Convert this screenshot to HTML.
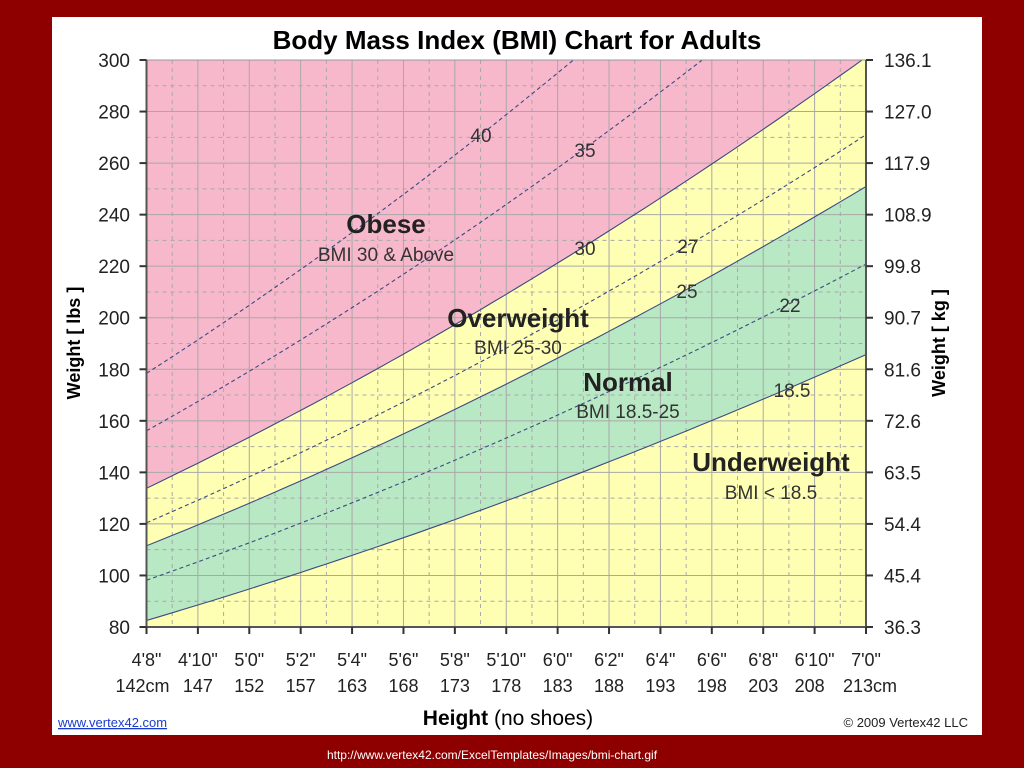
<!DOCTYPE html>
<html><head><meta charset="utf-8"><style>
body{margin:0;width:1024px;height:768px;background:#8e0000;overflow:hidden;font-family:"Liberation Sans",sans-serif}
svg{position:absolute;left:0;top:0}
</style></head><body>
<svg id="c" width="1024" height="768">
<rect x="52" y="17" width="930" height="718" fill="#fff"/>
<text x="517" y="49" font-size="26" font-weight="bold" text-anchor="middle" fill="#000">Body Mass Index (BMI) Chart for Adults</text>
<g id="plot"></g>
<text x="80" y="343" font-size="18" font-weight="bold" text-anchor="middle" transform="rotate(-90 80 343)">Weight [ lbs ]</text>
<text x="945" y="343" font-size="18" font-weight="bold" text-anchor="middle" transform="rotate(-90 945 343)">Weight [ kg ]</text>
<text x="508" y="725" font-size="21" text-anchor="middle"><tspan font-weight="bold">Height</tspan> (no shoes)</text>
<text x="58" y="727" font-size="13" fill="#1a3ccc" text-decoration="underline">www.vertex42.com</text>
<text x="968" y="727" font-size="13" text-anchor="end" fill="#222">© 2009 Vertex42 LLC</text>
<text x="492" y="759" font-size="12" text-anchor="middle" fill="#fff">http://www.vertex42.com/ExcelTemplates/Images/bmi-chart.gif</text>
</svg>
<script>
const bmiLevels=[18.5,22,25,27,30,35,40];
const solidLevels=[18.5,25,30];
const lbsTicks=[80,100,120,140,160,180,200,220,240,260,280,300];
const kgTicks=["36.3","45.4","54.4","63.5","72.6","81.6","90.7","99.8","108.9","117.9","127.0","136.1"];
const heightInches=[56,58,60,62,64,66,68,70,72,74,76,78,80,82,84];
const ftLabels=["4'8\"","4'10\"","5'0\"","5'2\"","5'4\"","5'6\"","5'8\"","5'10\"","6'0\"","6'2\"","6'4\"","6'6\"","6'8\"","6'10\"","7'0\""];
const cmLabels=["142cm","147","152","157","163","168","173","178","183","188","193","198","203","208","213cm"];
const NS="http://www.w3.org/2000/svg";
const L=146.5,R=866,T=60,B=627,hMin=56,hMax=84,wMin=80,wMax=300;
const X=h=>L+(h-hMin)/(hMax-hMin)*(R-L);
const Y=w=>B-(w-wMin)/(wMax-wMin)*(B-T);
const g=document.getElementById('plot');
function el(t,a,p){const e=document.createElementNS(NS,t);for(const k in a)e.setAttribute(k,a[k]);(p||g).appendChild(e);return e;}
const wt=(b,h)=>b*h*h/703;
const clip=el('clipPath',{id:'cp'});el('rect',{x:L,y:T,width:R-L,height:B-T},clip);
const cg=el('g',{'clip-path':'url(#cp)'});
function curve(b){let s='';for(let h=hMin;h<=hMax+0.001;h+=0.5)s+=(s?'L':'M')+X(h).toFixed(1)+','+Y(wt(b,h)).toFixed(1);return s;}
function band(lo,hi,fill,name){
 let top=hi==null?`M${L},${T}L${R},${T}`:curve(hi);
 let bot='';for(let h=hMax;h>=hMin-0.001;h-=0.5)bot+='L'+X(h).toFixed(1)+','+(lo==null?B:Y(wt(lo,h))).toFixed(1);
 const p=el('path',{d:top+bot+'Z',fill:fill},cg);
 
 
}
band(null,18.5,'#ffffb4','underweight-band');
band(18.5,25,'#b8e8c4','normal-band');
band(25,30,'#ffffb4','overweight-band');
band(30,null,'#f8b8cc','obese-band');
for(let h=hMin+1;h<hMax;h++){el('line',{x1:X(h),x2:X(h),y1:T,y2:B,stroke:'#a8a8a8','stroke-width':1,'stroke-dasharray':h%2?'4,4':''},cg);}
for(let w=wMin+10;w<wMax;w+=10){el('line',{x1:L,x2:R,y1:Y(w),y2:Y(w),stroke:'#a8a8a8','stroke-width':1,'stroke-dasharray':w%20?'4,4':''},cg);}
bmiLevels.forEach(b=>{
 const p=el('path',{d:curve(b),fill:'none',stroke:'#3c4a80','stroke-width':1.1,'stroke-dasharray':solidLevels.includes(b)?'':'4,3'},cg);
 
 
});
el('rect',{x:L,y:T,width:R-L,height:B-T,fill:'none',stroke:'#999'});
el('line',{x1:L,x2:L,y1:T,y2:B,stroke:'#555','stroke-width':2});
el('line',{x1:R,x2:R,y1:T,y2:B,stroke:'#555','stroke-width':2});
el('line',{x1:L,x2:R,y1:B,y2:B,stroke:'#555','stroke-width':2});
lbsTicks.forEach((w,i)=>{
 el('line',{x1:L-7,x2:L,y1:Y(w),y2:Y(w),stroke:'#333','stroke-width':2});
 el('line',{x1:R,x2:R+7,y1:Y(w),y2:Y(w),stroke:'#333','stroke-width':2});
 const t=el('text',{x:130,y:Y(w)+7,'font-size':19,'text-anchor':'end',fill:'#222'});t.textContent=w;
 
 
 const k=el('text',{x:884,y:Y(w)+7,'font-size':19,fill:'#222'});k.textContent=kgTicks[i];
 
 
});
heightInches.forEach((h,i)=>{
 el('line',{x1:X(h),x2:X(h),y1:B,y2:B+7,stroke:'#333','stroke-width':2});
 const a=el('text',{x:X(h),y:666,'font-size':18,'text-anchor':'middle',fill:'#222'});a.textContent=ftLabels[i];
 
 
 const c=el('text',{x:X(h)+(i==14?4:i==0?-4:(i==13?-5:0)),y:692,'font-size':18,'text-anchor':'middle',fill:'#222'});c.textContent=cmLabels[i];
 
 
});
const lineLabels=[["40",481,142],["35",585,157],["30",585,255],["27",688,253],["25",687,298],["22",790,312],["18.5",792,397]];
lineLabels.forEach(([s,x,y])=>{const t=el('text',{x:x,y:y,'font-size':19,'text-anchor':'middle',fill:'#333'});t.textContent=s;
 
 });
const regions=[["Obese","BMI 30 & Above",386,233,261],["Overweight","BMI 25-30",518,327,354],["Normal","BMI 18.5-25",628,391,418],["Underweight","BMI < 18.5",771,471,499]];
regions.forEach(([a,b,x,y1,y2])=>{
 const t=el('text',{x:x,y:y1,'font-size':26,'font-weight':'bold','text-anchor':'middle',fill:'#222'});t.textContent=a;
 
 
 const s=el('text',{x:x,y:y2,'font-size':19,'text-anchor':'middle',fill:'#333'});s.textContent=b;
 
 
});
</script>
</body></html>
